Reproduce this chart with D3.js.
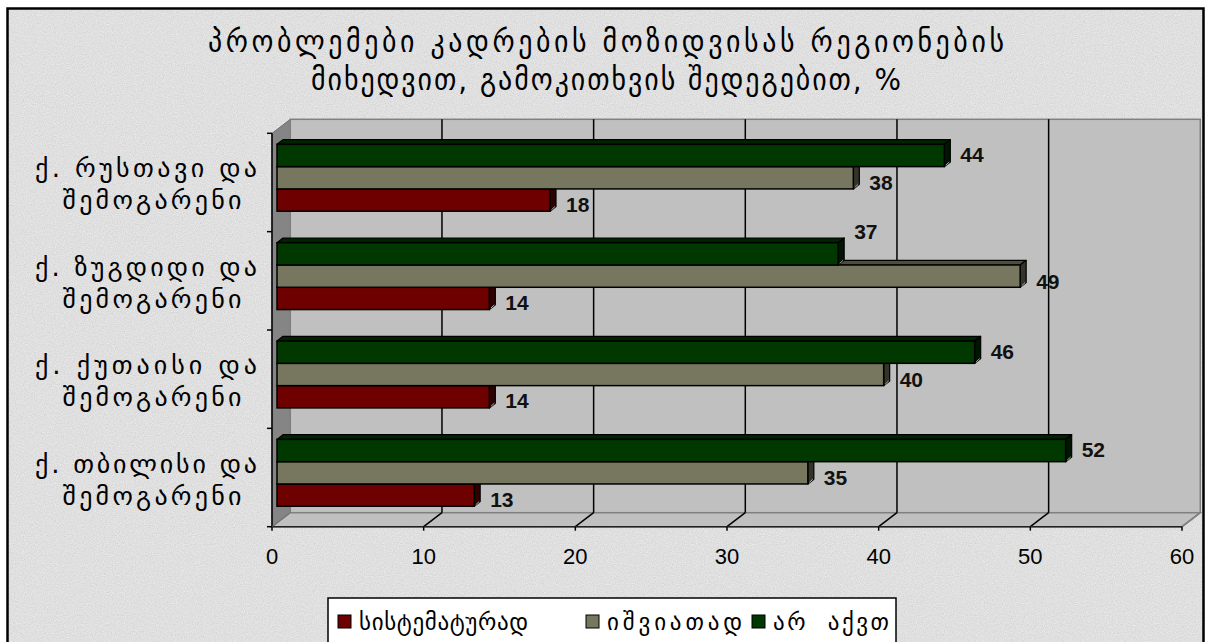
<!DOCTYPE html>
<html><head><meta charset="utf-8">
<script src="https://cdn.jsdelivr.net/npm/d3@7"></script>
<style>html,body{margin:0;padding:0;background:#fff;}svg{display:block;}</style>
</head><body>
<svg id="chart" width="1211" height="642"></svg>
<script>
// ---------- data ----------
const titleLines = ["პრობლემები კადრების მოზიდვისას რეგიონების", "მიხედვით, გამოკითხვის შედეგებით, %"];
const categories = ["ქ. რუსთავი და შემოგარენი", "ქ. ზუგდიდი და შემოგარენი", "ქ. ქუთაისი და შემოგარენი", "ქ. თბილისი და შემოგარენი"];
const seriesNames = ["სისტემატურად", "იშვიათად", "არ  აქვთ"];
const systematic = [18, 14, 14, 13];
const rarely     = [38, 49, 40, 35];
const notHave    = [44, 37, 46, 52];
const xTicks = [0, 10, 20, 30, 40, 50, 60];

// ---------- styles ----------
const colors = {
  "სისტემატურად": {front: "#6f0000", top: "#4a0000", side: "#2e0000"},
  "იშვიათად":     {front: "#777760", top: "#4e4e3e", side: "#34342a"},
  "არ  აქვთ":     {front: "#003800", top: "#002400", side: "#001600"}
};
const seriesData = [
  {name: seriesNames[2], values: notHave},
  {name: seriesNames[1], values: rarely},
  {name: seriesNames[0], values: systematic}
]; // top-to-bottom order within a group

const svg = d3.select("#chart");
const defs = svg.append("defs");
const f = defs.append("filter").attr("id", "paper").attr("x", 0).attr("y", 0).attr("width", "100%").attr("height", "100%")
  .attr("color-interpolation-filters", "sRGB");
f.append("feTurbulence").attr("type", "fractalNoise").attr("baseFrequency", 0.9).attr("numOctaves", 2).attr("seed", 4).attr("result", "n");
f.append("feColorMatrix").attr("type", "matrix")
  .attr("values", "0.33 0.33 0.33 0 0  0.33 0.33 0.33 0 0  0.33 0.33 0.33 0 0  0 0 0 0 1").attr("result", "g");
const ct = f.append("feComponentTransfer");
["R","G","B"].forEach(c => ct.append("feFunc" + c).attr("type", "linear").attr("slope", 0.5).attr("intercept", 0.62));

// background
svg.append("rect").attr("x", 7).attr("y", 8).attr("width", 1197).attr("height", 650).attr("fill", "#e2e2e2");
svg.append("rect").attr("x", 7).attr("y", 8).attr("width", 1197).attr("height", 650).attr("filter", "url(#paper)").attr("opacity", 0.45);
svg.append("rect").attr("x", 7.5).attr("y", 8.5).attr("width", 1196).attr("height", 650)
  .attr("fill", "none").attr("stroke", "#000").attr("stroke-width", 2.5);

// ---------- geometry ----------
const X0 = 272, X1 = 1182, YT = 133.3, YB = 526.7;
const DX = 18.3, DY = -14;        // wall depth
const BDX = 5, BDY = -4.7;        // bar front plane offset
const BX = 6, BY = -4.7;          // bar depth

const x = d3.scaleLinear().domain([0, 60]).range([X0, X1]);
const y = d3.scaleBand().domain(categories).range([YT, YB]).paddingInner(0.32).paddingOuter(0.16);
const ys = d3.scaleBand().domain(seriesData.map(d => d.name)).range([0, y.bandwidth()]);

const g = svg.append("g");
// walls
g.append("polygon").attr("points", [[X0, YT], [X0 + DX, YT + DY], [X0 + DX, YB + DY], [X0, YB]].join(" "))
  .attr("fill", "#858585").attr("stroke", "#707070").attr("stroke-width", 1);
g.append("rect").attr("x", X0 + DX).attr("y", YT + DY).attr("width", X1 - X0).attr("height", YB - YT)
  .attr("fill", "#c0c0c0").attr("stroke", "#808080").attr("stroke-width", 1.5);
g.append("polygon").attr("points", [[X0, YB], [X0 + DX, YB + DY], [X1 + DX, YB + DY], [X1, YB]].join(" "))
  .attr("fill", "#c0c0c0").attr("stroke", "#808080").attr("stroke-width", 1.5);

// gridlines
const inner = xTicks.filter(t => t > 0 && t < 60);
g.selectAll(".grid").data(inner).join("line")
  .attr("x1", d => x(d) + DX).attr("x2", d => x(d) + DX)
  .attr("y1", YT + DY).attr("y2", YB + DY).attr("stroke", "#000").attr("stroke-width", 1.5);
g.selectAll(".fgrid").data(xTicks.filter(t => t > 0)).join("line")
  .attr("x1", d => x(d) + DX).attr("y1", YB + DY).attr("x2", d => x(d)).attr("y2", YB)
  .attr("stroke", d => d === 60 ? "#808080" : "#000").attr("stroke-width", 1.5);

// axes lines
g.append("line").attr("x1", X0).attr("x2", X0).attr("y1", YT).attr("y2", YB).attr("stroke", "#000").attr("stroke-width", 1.5);
g.append("line").attr("x1", X0).attr("x2", X1).attr("y1", YB).attr("y2", YB).attr("stroke", "#222").attr("stroke-width", 1.5);
g.append("line").attr("x1", X0).attr("y1", YB).attr("x2", X0 + DX).attr("y2", YB + DY).attr("stroke", "#707070").attr("stroke-width", 1);

// y ticks at category boundaries
const step = y.step();
g.selectAll(".yt").data(d3.range(categories.length + 1)).join("line")
  .attr("x1", X0 - 5).attr("x2", X0).attr("y1", i => YT + i * step).attr("y2", i => YT + i * step)
  .attr("stroke", "#000").attr("stroke-width", 1.5);
// x ticks
g.selectAll(".xt").data(xTicks).join("line")
  .attr("x1", d => x(d)).attr("x2", d => x(d)).attr("y1", YB).attr("y2", YB + 4)
  .attr("stroke", "#000").attr("stroke-width", 1.5);
g.selectAll(".xl").data(xTicks).join("text")
  .attr("x", d => x(d)).attr("y", 556).attr("text-anchor", "middle").attr("dominant-baseline", "central")
  .attr("font-family", "Liberation Sans, Arial, sans-serif").attr("font-size", 22).text(d => d);

// bars (draw bottom group first, bottom bar first)
const bars = [];
categories.forEach((c, ci) => {
  seriesData.forEach((s, si) => {
    const below = seriesData[si + 1];
    bars.push({cat: c, name: s.name, v: s.values[ci], si, vBelow: below ? below.values[ci] : null});
  });
});
bars.sort((a, b) => (y(b.cat) + ys(b.name)) - (y(a.cat) + ys(a.name)));
const bh = ys.bandwidth();
bars.forEach(b => {
  const xa = x(0) + BDX, xb = x(b.v) + BDX;
  const y0 = y(b.cat) + ys(b.name) + BDY, y1 = y0 + bh;
  const col = colors[b.name];
  const bg = g.append("g");
  bg.append("polygon").attr("points", [[xa, y0], [xa + BX, y0 + BY], [xb + BX, y0 + BY], [xb, y0]].join(" "))
    .attr("fill", col.top).attr("stroke", "#000").attr("stroke-width", 1.2).attr("stroke-linejoin", "round");
  bg.append("polygon").attr("points", [[xb, y0], [xb + BX, y0 + BY], [xb + BX, y1 + BY], [xb, y1]].join(" "))
    .attr("fill", col.side).attr("stroke", "#000").attr("stroke-width", 1.2).attr("stroke-linejoin", "round");
  bg.append("line").attr("x1", xb + 1.5).attr("y1", y1 - 1.5).attr("x2", xb + BX - 1).attr("y2", y1 + BY)
    .attr("stroke", "#d8d8d8").attr("stroke-width", 0.8);
  bg.append("rect").attr("x", xa).attr("y", y0).attr("width", xb - xa).attr("height", bh)
    .attr("fill", col.front).attr("stroke", "#000").attr("stroke-width", 1.5);
});
// value labels: right of bar end; lifted above the bar when the bar below runs past it
const labelDy = [-1, 5, 4];
g.selectAll(".vl").data(bars).join("text")
  .attr("x", d => x(d.v) + BDX + BX + 10)
  .attr("y", d => {
    const top = y(d.cat) + ys(d.name) + BDY;
    if (d.vBelow !== null && d.vBelow > d.v + 3) return top - 11;
    return top + bh / 2 + labelDy[d.si];
  })
  .attr("dominant-baseline", "central")
  .attr("font-family", "Liberation Sans, Arial, sans-serif").attr("font-weight", "bold").attr("font-size", 21)
  .attr("fill", "#111").text(d => d.v);

// category labels
const geo = "DejaVu Sans, Noto Sans, sans-serif";
categories.forEach(c => {
  const parts = c.split(" შემოგარენი");
  const cy = y(c) - y.step() * y.paddingInner() / 2 + step / 2;
  const t = g.append("text").attr("text-anchor", "middle").attr("font-family", geo).attr("font-size", 26).attr("fill", "#000");
  t.append("tspan").attr("x", 146).attr("y", cy - 14).attr("dominant-baseline", "central")
    .attr("textLength", 222).attr("lengthAdjust", "spacing").text(parts[0]);
  t.append("tspan").attr("x", 152).attr("y", cy + 18).attr("dominant-baseline", "central")
    .attr("textLength", 179).attr("lengthAdjust", "spacing").text("შემოგარენი");
});

// title
const titleWidths = [796, 590];
titleLines.forEach((line, i) => {
  svg.append("text").attr("x", 606).attr("y", 41 + i * 38).attr("text-anchor", "middle").attr("dominant-baseline", "central")
    .attr("font-family", "DejaVu Sans Condensed, DejaVu Sans, sans-serif").attr("font-size", 31)
    .attr("fill", "#000").attr("textLength", titleWidths[i]).attr("lengthAdjust", "spacing").text(line);
});

// legend
const lg = svg.append("g");
lg.append("rect").attr("x", 328).attr("y", 598).attr("width", 568).attr("height", 60)
  .attr("fill", "#fff").attr("stroke", "#000").attr("stroke-width", 1.5);
const legendX = [338, 586, 752];
const legendW = [169, 135, 116];
seriesNames.forEach((n, i) => {
  lg.append("rect").attr("x", legendX[i]).attr("y", 615).attr("width", 13).attr("height", 13)
    .attr("fill", colors[n].front).attr("stroke", "#000").attr("stroke-width", 1);
  lg.append("text").attr("x", legendX[i] + 21).attr("y", 622).attr("dominant-baseline", "central")
    .attr("font-family", geo).attr("font-size", 23).attr("fill", "#000")
    .attr("textLength", legendW[i]).attr("lengthAdjust", "spacing").style("white-space", "pre").text(n);
});
</script>
</body></html>
